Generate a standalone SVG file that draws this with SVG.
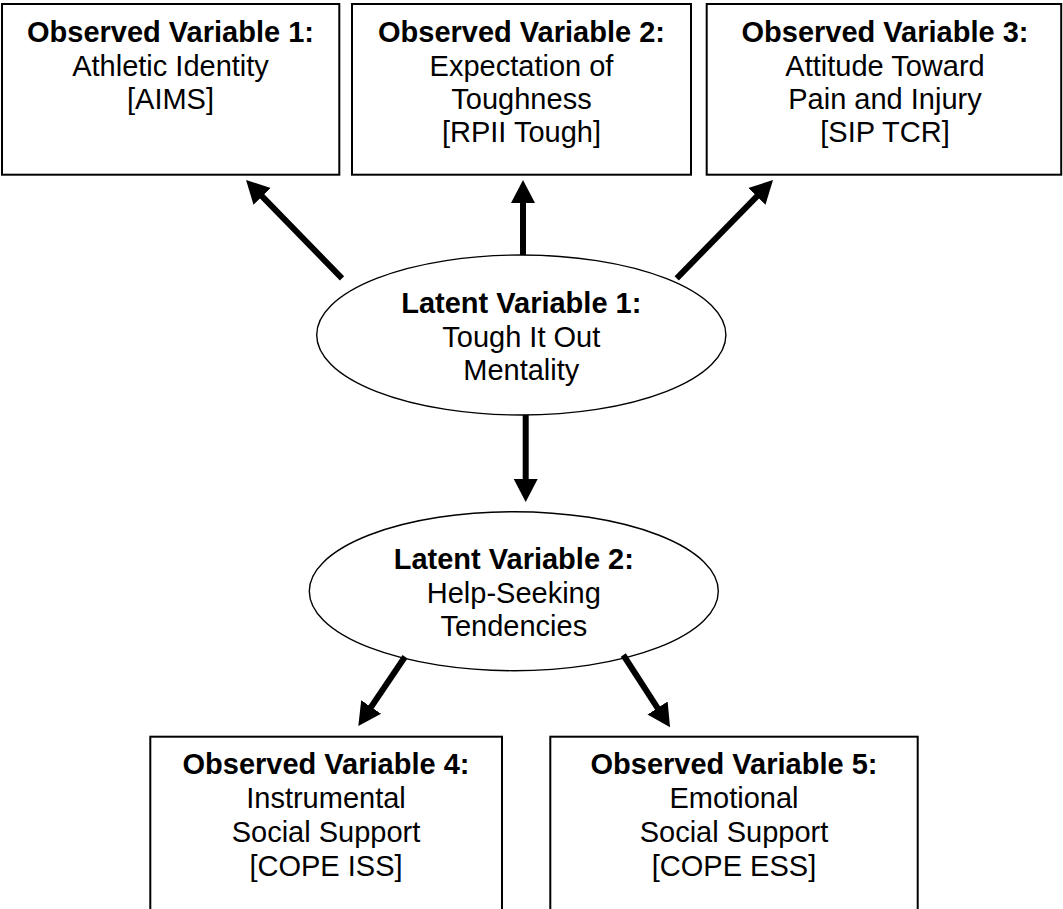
<svg xmlns="http://www.w3.org/2000/svg" width="1063" height="909" viewBox="0 0 1063 909">
<style>
.box{fill:#fff;stroke:#000;stroke-width:2}
.ell{fill:#fff;stroke:#000;stroke-width:1.4}
.t{font-family:"Liberation Sans",Arial,sans-serif;font-size:29px;fill:#000;text-anchor:middle}
.b{font-weight:bold}
.arr{stroke:#000;stroke-width:6;fill:none;marker-end:url(#ah)}
</style>
<defs>
<marker id="ah" markerUnits="userSpaceOnUse" markerWidth="24" markerHeight="26" viewBox="0 -13 24 26" refX="1" refY="0" orient="auto">
<path d="M0,-12 L23,0 L0,12 Z" fill="#000"/>
</marker>
</defs>
<rect width="1063" height="909" fill="#fff"/>
<g id="obs1">
<rect class="box" x="2" y="4" width="337.3" height="170.7"/>
<text class="t b" x="170.5" y="42">Observed Variable 1:</text>
<text class="t" x="170.5" y="75.5">Athletic Identity</text>
<text class="t" x="170.5" y="109">[AIMS]</text>
</g>
<g id="obs2">
<rect class="box" x="352" y="4" width="339" height="170.7"/>
<text class="t b" x="521.5" y="42">Observed Variable 2:</text>
<text class="t" x="521.5" y="75.5">Expectation of</text>
<text class="t" x="521.5" y="109">Toughness</text>
<text class="t" x="521.5" y="142">[RPII Tough]</text>
</g>
<g id="obs3">
<rect class="box" x="706.7" y="4" width="354.5" height="170.7"/>
<text class="t b" x="885" y="42">Observed Variable 3:</text>
<text class="t" x="885" y="75.5">Attitude Toward</text>
<text class="t" x="885" y="109">Pain and Injury</text>
<text class="t" x="885" y="142">[SIP TCR]</text>
</g>
<g id="lat1">
<ellipse class="ell" cx="521.3" cy="335" rx="204.6" ry="80"/>
<text class="t b" x="521.3" y="313">Latent Variable 1:</text>
<text class="t" x="521.3" y="346.5">Tough It Out</text>
<text class="t" x="521.3" y="380">Mentality</text>
</g>
<g id="lat2">
<ellipse class="ell" cx="513.8" cy="591.2" rx="204.5" ry="79.5"/>
<text class="t b" x="513.8" y="569">Latent Variable 2:</text>
<text class="t" x="513.8" y="603">Help-Seeking</text>
<text class="t" x="513.8" y="636">Tendencies</text>
</g>
<g id="obs4">
<rect class="box" x="150.3" y="736.7" width="351.7" height="200"/>
<text class="t b" x="326" y="774">Observed Variable 4:</text>
<text class="t" x="326" y="808">Instrumental</text>
<text class="t" x="326" y="842">Social Support</text>
<text class="t" x="326" y="876">[COPE ISS]</text>
</g>
<g id="obs5">
<rect class="box" x="550.3" y="736.7" width="367.4" height="200"/>
<text class="t b" x="734" y="774">Observed Variable 5:</text>
<text class="t" x="734" y="808">Emotional</text>
<text class="t" x="734" y="842">Social Support</text>
<text class="t" x="734" y="876">[COPE ESS]</text>
</g>
<g id="connectors">
<line class="arr" x1="342" y1="278.3" x2="261.4" y2="195.7"/>
<line class="arr" x1="523" y1="255" x2="523" y2="202"/>
<line class="arr" x1="676.7" y1="278.3" x2="757.6" y2="195.7"/>
<line class="arr" x1="525.7" y1="415" x2="525.7" y2="480"/>
<line class="arr" x1="405" y1="656.7" x2="370.6" y2="707.8"/>
<line class="arr" x1="623.3" y1="655" x2="658.1" y2="708.8"/>
</g>
</svg>
